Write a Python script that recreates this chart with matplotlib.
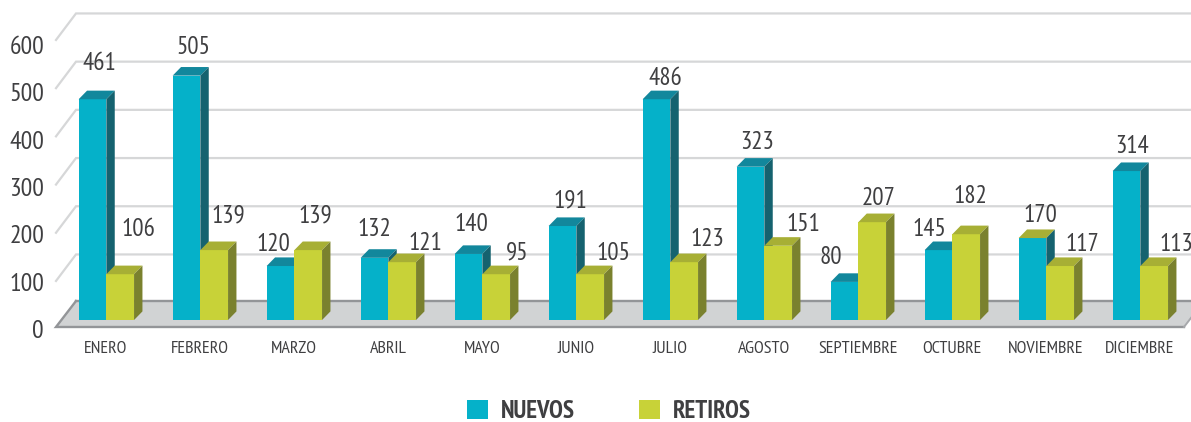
import matplotlib
matplotlib.use("Agg")
import matplotlib.pyplot as plt
from matplotlib.patches import Patch, Polygon

# narrow face first, the plain ones are only a fallback
plt.rcParams['font.family'] = ['PT Sans Narrow', 'Liberation Sans', 'DejaVu Sans']

meses = ["ENERO", "FEBRERO", "MARZO", "ABRIL", "MAYO", "JUNIO", "JULIO", "AGOSTO",
         "SEPTIEMBRE", "OCTUBRE", "NOVIEMBRE", "DICIEMBRE"]

# printed numbers
nuevos = [461, 505, 120, 132, 140, 191, 486, 323, 80, 145, 170, 314]
retiros = [106, 139, 139, 121, 95, 105, 123, 151, 207, 182, 117, 113]

# bar heights, the picture does not always agree with its labels
nuevos_alto = [458, 507, 112, 129, 137, 195, 458, 318, 79, 145, 170, 309]
retiros_alto = [95, 145, 145, 120, 95, 95, 120, 154, 203, 178, 112, 112]

escala = [0, 100, 200, 300, 400, 500, 600]

# label offsets from the top of each bar, in pixels
nuevos_dx = [6.5, 7, -7.5, 0, 3, 7.5, 9, 7, -13.5, -9.5, 7.5, 5.5]
nuevos_dy = [36, 28, 22, 28, 29, 25, 21, 24, 24, 21, 23, 25]
retiros_dx = [18, 13.7, 7, 23, 20.7, 23, 22.7, 25, 6, 4, 22, 22]
retiros_dy = [45, 34, 34, 19, 21, 21, 23, 21, 24, 38, 22, 22]

W, H = 1191, 422
PX_X = 94.0    # pixels per month
PX_Y = 0.482   # pixels per unit
X0, Y0 = 106.0, 320.0

ANCHO = 27.7 / PX_X
DEPTH_X = 8.4 / PX_X
DEPTH_Y = 8.6 / PX_Y

GRID_IN = 36      # grid level offset at the back wall
GRID_OUT = -19    # and where the diagonal starts
FLOOR_IN = 39.4
FLOOR_OUT = -14.5
SHIFT_X = 20 / PX_X

AZUL = ('#05b1c9', '#12879c', '#15626f')
VERDE = ('#c8d238', '#a7af35', '#7a812e')
TEXTO = '#3f3f41'

fig = plt.figure(figsize=(W / 100, H / 100), dpi=100)
ax = fig.add_axes([0, 0, 1, 1])
ax.set_xlim(-X0 / PX_X, (W - X0) / PX_X)
ax.set_ylim(-(H - Y0) / PX_Y, Y0 / PX_Y)
ax.axis('off')

x_left = (56 - X0) / PX_X
x_right = (1184 - X0) / PX_X
x_end = (W + 5 - X0) / PX_X

# floor
ax.add_patch(Polygon([(x_left, FLOOR_OUT), (x_right, FLOOR_OUT),
                      (x_right + SHIFT_X, FLOOR_IN), (x_left + SHIFT_X, FLOOR_IN)],
                     closed=True, fc='#d1d3d4', ec='none', zorder=1))
ax.plot([x_left + SHIFT_X, x_left, x_right], [FLOOR_IN, FLOOR_OUT, FLOOR_OUT],
        color='#939598', lw=1.7, zorder=2, solid_joinstyle='miter')
ax.plot([x_right, x_right + SHIFT_X], [FLOOR_OUT, FLOOR_IN], color='#a7a9ac', lw=1.4, zorder=2)
ax.plot([x_left + SHIFT_X, x_end], [FLOOR_IN, FLOOR_IN], color='#939598', lw=1.7, zorder=2)

# grid
for v in escala[1:]:
    ax.plot([x_left, x_left + SHIFT_X, x_end], [v + GRID_OUT, v + GRID_IN, v + GRID_IN],
            color='#d6d7d8', lw=1.6, zorder=1, solid_joinstyle='miter')


def barra(i, desplaza, alto, colores, z):
    front, top, side = colores
    x = i + desplaza
    ax.bar(x, alto, ANCHO, color=front, zorder=z)
    a, b = x - ANCHO / 2, x + ANCHO / 2
    ax.add_patch(Polygon([(a, alto), (b, alto), (b + DEPTH_X, alto + DEPTH_Y), (a + DEPTH_X, alto + DEPTH_Y)],
                         closed=True, fc=top, ec='none', zorder=z))
    ax.add_patch(Polygon([(b, 0), (b + DEPTH_X, DEPTH_Y), (b + DEPTH_X, alto + DEPTH_Y), (b, alto)],
                         closed=True, fc=side, ec='none', zorder=z))


for i in range(len(meses)):
    z = 3 + i
    # the top of November's blue bar is olive in the original
    azul = (AZUL[0], VERDE[1], AZUL[2]) if meses[i] == "NOVIEMBRE" else AZUL
    barra(i, -13.5 / PX_X, nuevos_alto[i], azul, z)
    barra(i, 14.2 / PX_X, retiros_alto[i], VERDE, z + 0.5)

    ax.annotate(str(nuevos[i]), (i - 13.5 / PX_X, nuevos_alto[i]),
                xytext=(nuevos_dx[i], nuevos_dy[i]), textcoords='offset pixels',
                ha='center', va='center', fontsize=18, color=TEXTO, zorder=30)
    ax.annotate(str(retiros[i]), (i + 14.2 / PX_X, retiros_alto[i]),
                xytext=(retiros_dx[i], retiros_dy[i]), textcoords='offset pixels',
                ha='center', va='center', fontsize=18, color=TEXTO, zorder=30)
    ax.text(i, -60, meses[i], ha='center', va='center', fontsize=13, color=TEXTO)

for v in escala:
    ax.text((44 - X0) / PX_X, v * 0.982 - 24, str(v), ha='right', va='center',
            fontsize=18.5, color=TEXTO)

ax.legend(handles=[Patch(fc=AZUL[0], label='NUEVOS'), Patch(fc=VERDE[0], label='RETIROS')],
          ncol=2, frameon=False, loc='lower left', bbox_to_anchor=(467 / W, -1 / H),
          borderpad=0, borderaxespad=0, handlelength=0.84, handleheight=0.8,
          handletextpad=0.52, columnspacing=2.56,
          prop={'size': 18, 'weight': 'bold'}, labelcolor=TEXTO)

fig.savefig('out.png', dpi=100)
